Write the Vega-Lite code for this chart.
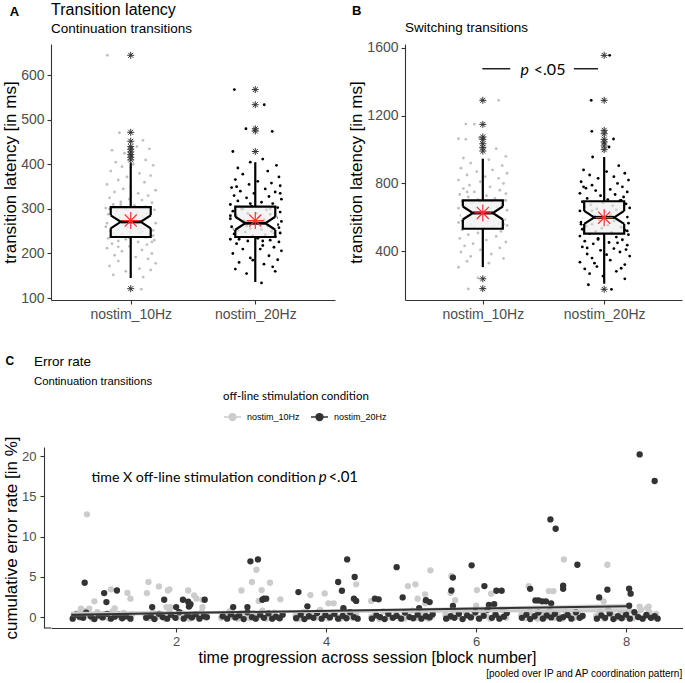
{
"$schema":"https://vega.github.io/schema/vega-lite/v6.json",
"padding":{"left":1,"top":1,"right":0,"bottom":0},
"spacing":33,
"columns":1,
"align":"none",
"config":{"view":{"stroke":null},"font":"Liberation Sans",
"axis":{"grid":false,"labelColor":"#4d4d4d","domainColor":"#333333","tickColor":"#333333","titleColor":"#000000","titleFontWeight":"normal","labelFont":"Liberation Sans","titleFont":"Liberation Sans","tickSize":4,"domainWidth":1.1,"tickWidth":1.1,"labelFontSize":14,"titleFontSize":17,"labelPadding":3,"titlePadding":1},
"title":{"font":"Liberation Sans","fontWeight":"normal","color":"#000000","subtitleColor":"#000000","subtitleFont":"Liberation Sans"}},
"datasets":{
"pts":[
{"p":"A","g":"10Hz","x":0.813,"y":645},{"p":"A","g":"10Hz","x":0.909,"y":471},{"p":"A","g":"10Hz","x":1.098,"y":454},{"p":"A","g":"10Hz","x":0.85,"y":432},{"p":"A","g":"10Hz","x":1.05,"y":440},{"p":"A","g":"10Hz","x":1.15,"y":435},{"p":"A","g":"10Hz","x":0.95,"y":425},{"p":"A","g":"10Hz","x":1.12,"y":410},{"p":"A","g":"10Hz","x":0.88,"y":405},{"p":"A","g":"10Hz","x":1.02,"y":400},{"p":"A","g":"10Hz","x":0.93,"y":395},{"p":"A","g":"10Hz","x":1.18,"y":398},{"p":"A","g":"10Hz","x":0.84,"y":385},{"p":"A","g":"10Hz","x":1.07,"y":380},{"p":"A","g":"10Hz","x":0.97,"y":372},{"p":"A","g":"10Hz","x":1.16,"y":375},{"p":"A","g":"10Hz","x":0.9,"y":365},{"p":"A","g":"10Hz","x":1.11,"y":360},{"p":"A","g":"10Hz","x":0.81,"y":355},{"p":"A","g":"10Hz","x":1.0,"y":350},{"p":"A","g":"10Hz","x":0.94,"y":345},{"p":"A","g":"10Hz","x":1.2,"y":342},{"p":"A","g":"10Hz","x":0.87,"y":338},{"p":"A","g":"10Hz","x":1.06,"y":335},{"p":"A","g":"10Hz","x":1.14,"y":330},{"p":"A","g":"10Hz","x":0.83,"y":325},{"p":"A","g":"10Hz","x":0.99,"y":322},{"p":"A","g":"10Hz","x":1.09,"y":320},{"p":"A","g":"10Hz","x":0.92,"y":316},{"p":"A","g":"10Hz","x":1.17,"y":314},{"p":"A","g":"10Hz","x":0.86,"y":310},{"p":"A","g":"10Hz","x":1.03,"y":308},{"p":"A","g":"10Hz","x":1.12,"y":305},{"p":"A","g":"10Hz","x":0.8,"y":302},{"p":"A","g":"10Hz","x":0.96,"y":300},{"p":"A","g":"10Hz","x":1.19,"y":298},{"p":"A","g":"10Hz","x":0.89,"y":295},{"p":"A","g":"10Hz","x":1.05,"y":292},{"p":"A","g":"10Hz","x":1.13,"y":290},{"p":"A","g":"10Hz","x":0.82,"y":288},{"p":"A","g":"10Hz","x":0.98,"y":285},{"p":"A","g":"10Hz","x":1.1,"y":283},{"p":"A","g":"10Hz","x":0.91,"y":280},{"p":"A","g":"10Hz","x":1.16,"y":278},{"p":"A","g":"10Hz","x":0.85,"y":276},{"p":"A","g":"10Hz","x":1.01,"y":274},{"p":"A","g":"10Hz","x":1.08,"y":272},{"p":"A","g":"10Hz","x":0.94,"y":270},{"p":"A","g":"10Hz","x":1.2,"y":268},{"p":"A","g":"10Hz","x":0.87,"y":266},{"p":"A","g":"10Hz","x":1.04,"y":264},{"p":"A","g":"10Hz","x":1.14,"y":262},{"p":"A","g":"10Hz","x":0.8,"y":260},{"p":"A","g":"10Hz","x":0.97,"y":258},{"p":"A","g":"10Hz","x":1.11,"y":256},{"p":"A","g":"10Hz","x":0.9,"y":254},{"p":"A","g":"10Hz","x":1.18,"y":252},{"p":"A","g":"10Hz","x":0.84,"y":250},{"p":"A","g":"10Hz","x":1.0,"y":248},{"p":"A","g":"10Hz","x":1.07,"y":246},{"p":"A","g":"10Hz","x":0.93,"y":244},{"p":"A","g":"10Hz","x":1.15,"y":242},{"p":"A","g":"10Hz","x":0.88,"y":240},{"p":"A","g":"10Hz","x":1.03,"y":238},{"p":"A","g":"10Hz","x":1.12,"y":236},{"p":"A","g":"10Hz","x":0.82,"y":234},{"p":"A","g":"10Hz","x":0.96,"y":232},{"p":"A","g":"10Hz","x":1.19,"y":230},{"p":"A","g":"10Hz","x":0.9,"y":228},{"p":"A","g":"10Hz","x":1.06,"y":226},{"p":"A","g":"10Hz","x":0.85,"y":222},{"p":"A","g":"10Hz","x":1.13,"y":220},{"p":"A","g":"10Hz","x":0.99,"y":216},{"p":"A","g":"10Hz","x":0.81,"y":212},{"p":"A","g":"10Hz","x":1.09,"y":208},{"p":"A","g":"10Hz","x":0.93,"y":205},{"p":"A","g":"10Hz","x":1.17,"y":200},{"p":"A","g":"10Hz","x":0.87,"y":196},{"p":"A","g":"10Hz","x":1.04,"y":192},{"p":"A","g":"10Hz","x":1.14,"y":188},{"p":"A","g":"10Hz","x":0.9,"y":183},{"p":"A","g":"10Hz","x":1.2,"y":178},{"p":"A","g":"10Hz","x":0.83,"y":172},{"p":"A","g":"10Hz","x":1.07,"y":166},{"p":"A","g":"10Hz","x":0.96,"y":160},{"p":"A","g":"10Hz","x":1.16,"y":163},{"p":"A","g":"10Hz","x":0.86,"y":152},{"p":"A","g":"10Hz","x":1.1,"y":147},{"p":"A","g":"10Hz","x":1.085,"y":120},{"p":"A","g":"10Hz","x":0.83,"y":300},{"p":"A","g":"10Hz","x":1.15,"y":285},{"p":"A","g":"10Hz","x":0.95,"y":262},{"p":"A","g":"10Hz","x":1.09,"y":250},{"p":"A","g":"10Hz","x":0.88,"y":275},{"p":"A","g":"10Hz","x":1.01,"y":290},{"p":"A","g":"10Hz","x":1.18,"y":240},{"p":"A","g":"10Hz","x":0.92,"y":310},{"p":"A","g":"10Hz","x":1.06,"y":255},{"p":"A","g":"10Hz","x":0.86,"y":245},{"p":"A","g":"10Hz","x":1.13,"y":270},{"p":"A","g":"10Hz","x":0.99,"y":235},{"p":"A","g":"10Hz","x":0.81,"y":268},{"p":"A","g":"10Hz","x":1.04,"y":280},{"p":"A","g":"10Hz","x":1.17,"y":226},{"p":"A","g":"10Hz","x":0.9,"y":215},
{"p":"A","g":"20Hz","x":1.832,"y":568},{"p":"A","g":"20Hz","x":2.072,"y":534},{"p":"A","g":"20Hz","x":1.925,"y":480},{"p":"A","g":"20Hz","x":2.136,"y":474},{"p":"A","g":"20Hz","x":1.82,"y":429},{"p":"A","g":"20Hz","x":2.06,"y":412},{"p":"A","g":"20Hz","x":1.96,"y":405},{"p":"A","g":"20Hz","x":2.17,"y":398},{"p":"A","g":"20Hz","x":1.86,"y":392},{"p":"A","g":"20Hz","x":2.1,"y":385},{"p":"A","g":"20Hz","x":1.9,"y":378},{"p":"A","g":"20Hz","x":2.19,"y":372},{"p":"A","g":"20Hz","x":1.84,"y":366},{"p":"A","g":"20Hz","x":2.02,"y":362},{"p":"A","g":"20Hz","x":2.13,"y":358},{"p":"A","g":"20Hz","x":1.95,"y":355},{"p":"A","g":"20Hz","x":2.2,"y":352},{"p":"A","g":"20Hz","x":1.81,"y":348},{"p":"A","g":"20Hz","x":2.08,"y":345},{"p":"A","g":"20Hz","x":1.88,"y":340},{"p":"A","g":"20Hz","x":2.16,"y":338},{"p":"A","g":"20Hz","x":1.99,"y":335},{"p":"A","g":"20Hz","x":1.83,"y":330},{"p":"A","g":"20Hz","x":2.11,"y":328},{"p":"A","g":"20Hz","x":1.93,"y":325},{"p":"A","g":"20Hz","x":2.21,"y":322},{"p":"A","g":"20Hz","x":1.86,"y":318},{"p":"A","g":"20Hz","x":2.05,"y":315},{"p":"A","g":"20Hz","x":2.14,"y":312},{"p":"A","g":"20Hz","x":1.8,"y":310},{"p":"A","g":"20Hz","x":1.97,"y":306},{"p":"A","g":"20Hz","x":2.18,"y":303},{"p":"A","g":"20Hz","x":1.89,"y":300},{"p":"A","g":"20Hz","x":2.09,"y":298},{"p":"A","g":"20Hz","x":1.82,"y":295},{"p":"A","g":"20Hz","x":2.2,"y":293},{"p":"A","g":"20Hz","x":1.94,"y":290},{"p":"A","g":"20Hz","x":2.12,"y":288},{"p":"A","g":"20Hz","x":1.85,"y":285},{"p":"A","g":"20Hz","x":2.03,"y":282},{"p":"A","g":"20Hz","x":2.17,"y":280},{"p":"A","g":"20Hz","x":1.8,"y":278},{"p":"A","g":"20Hz","x":2.07,"y":276},{"p":"A","g":"20Hz","x":1.91,"y":274},{"p":"A","g":"20Hz","x":2.21,"y":272},{"p":"A","g":"20Hz","x":1.84,"y":270},{"p":"A","g":"20Hz","x":2.0,"y":268},{"p":"A","g":"20Hz","x":2.15,"y":266},{"p":"A","g":"20Hz","x":1.88,"y":264},{"p":"A","g":"20Hz","x":2.1,"y":262},{"p":"A","g":"20Hz","x":1.81,"y":260},{"p":"A","g":"20Hz","x":2.19,"y":258},{"p":"A","g":"20Hz","x":1.96,"y":256},{"p":"A","g":"20Hz","x":2.05,"y":254},{"p":"A","g":"20Hz","x":1.86,"y":252},{"p":"A","g":"20Hz","x":2.13,"y":250},{"p":"A","g":"20Hz","x":1.92,"y":248},{"p":"A","g":"20Hz","x":2.2,"y":246},{"p":"A","g":"20Hz","x":1.83,"y":244},{"p":"A","g":"20Hz","x":2.08,"y":242},{"p":"A","g":"20Hz","x":1.98,"y":240},{"p":"A","g":"20Hz","x":2.16,"y":238},{"p":"A","g":"20Hz","x":1.87,"y":236},{"p":"A","g":"20Hz","x":2.02,"y":234},{"p":"A","g":"20Hz","x":1.8,"y":232},{"p":"A","g":"20Hz","x":2.12,"y":230},{"p":"A","g":"20Hz","x":1.94,"y":228},{"p":"A","g":"20Hz","x":2.19,"y":226},{"p":"A","g":"20Hz","x":1.85,"y":222},{"p":"A","g":"20Hz","x":2.06,"y":218},{"p":"A","g":"20Hz","x":2.15,"y":214},{"p":"A","g":"20Hz","x":1.9,"y":210},{"p":"A","g":"20Hz","x":2.21,"y":206},{"p":"A","g":"20Hz","x":1.82,"y":200},{"p":"A","g":"20Hz","x":2.11,"y":195},{"p":"A","g":"20Hz","x":1.96,"y":190},{"p":"A","g":"20Hz","x":2.18,"y":186},{"p":"A","g":"20Hz","x":1.87,"y":180},{"p":"A","g":"20Hz","x":2.07,"y":176},{"p":"A","g":"20Hz","x":2.14,"y":170},{"p":"A","g":"20Hz","x":1.84,"y":165},{"p":"A","g":"20Hz","x":2.16,"y":160},{"p":"A","g":"20Hz","x":1.93,"y":155},{"p":"A","g":"20Hz","x":2.05,"y":134},{"p":"A","g":"20Hz","x":1.9,"y":300},{"p":"A","g":"20Hz","x":2.1,"y":270},{"p":"A","g":"20Hz","x":1.83,"y":255},{"p":"A","g":"20Hz","x":2.15,"y":245},{"p":"A","g":"20Hz","x":2.01,"y":290},{"p":"A","g":"20Hz","x":1.87,"y":232},{"p":"A","g":"20Hz","x":2.18,"y":265},{"p":"A","g":"20Hz","x":1.96,"y":312},{"p":"A","g":"20Hz","x":2.06,"y":228},{"p":"A","g":"20Hz","x":1.8,"y":285},{"p":"A","g":"20Hz","x":2.12,"y":300},{"p":"A","g":"20Hz","x":1.93,"y":262},{"p":"A","g":"20Hz","x":2.2,"y":335},{"p":"A","g":"20Hz","x":1.85,"y":350},{"p":"A","g":"20Hz","x":2.04,"y":210},{"p":"A","g":"20Hz","x":1.98,"y":185},
{"p":"B","g":"10Hz","x":1.13,"y":1290},{"p":"B","g":"10Hz","x":0.99,"y":1290},{"p":"B","g":"10Hz","x":0.93,"y":1150},{"p":"B","g":"10Hz","x":0.86,"y":1150},{"p":"B","g":"10Hz","x":0.8,"y":1064},{"p":"B","g":"10Hz","x":0.86,"y":1060},{"p":"B","g":"10Hz","x":0.99,"y":1040},{"p":"B","g":"10Hz","x":1.11,"y":1005},{"p":"B","g":"10Hz","x":1.01,"y":1000},{"p":"B","g":"10Hz","x":0.97,"y":1070},{"p":"B","g":"10Hz","x":1.19,"y":960},{"p":"B","g":"10Hz","x":0.84,"y":950},{"p":"B","g":"10Hz","x":1.05,"y":940},{"p":"B","g":"10Hz","x":0.9,"y":920},{"p":"B","g":"10Hz","x":1.16,"y":905},{"p":"B","g":"10Hz","x":0.82,"y":890},{"p":"B","g":"10Hz","x":1.08,"y":880},{"p":"B","g":"10Hz","x":0.95,"y":870},{"p":"B","g":"10Hz","x":1.2,"y":860},{"p":"B","g":"10Hz","x":0.87,"y":850},{"p":"B","g":"10Hz","x":1.02,"y":840},{"p":"B","g":"10Hz","x":1.13,"y":830},{"p":"B","g":"10Hz","x":0.8,"y":820},{"p":"B","g":"10Hz","x":0.98,"y":810},{"p":"B","g":"10Hz","x":1.17,"y":800},{"p":"B","g":"10Hz","x":0.89,"y":790},{"p":"B","g":"10Hz","x":1.06,"y":780},{"p":"B","g":"10Hz","x":0.84,"y":770},{"p":"B","g":"10Hz","x":1.14,"y":760},{"p":"B","g":"10Hz","x":0.93,"y":750},{"p":"B","g":"10Hz","x":1.19,"y":740},{"p":"B","g":"10Hz","x":0.81,"y":735},{"p":"B","g":"10Hz","x":1.03,"y":728},{"p":"B","g":"10Hz","x":0.88,"y":720},{"p":"B","g":"10Hz","x":1.1,"y":712},{"p":"B","g":"10Hz","x":0.96,"y":705},{"p":"B","g":"10Hz","x":1.18,"y":700},{"p":"B","g":"10Hz","x":0.83,"y":695},{"p":"B","g":"10Hz","x":1.07,"y":690},{"p":"B","g":"10Hz","x":0.91,"y":684},{"p":"B","g":"10Hz","x":1.15,"y":678},{"p":"B","g":"10Hz","x":0.86,"y":672},{"p":"B","g":"10Hz","x":1.0,"y":666},{"p":"B","g":"10Hz","x":1.12,"y":660},{"p":"B","g":"10Hz","x":0.8,"y":654},{"p":"B","g":"10Hz","x":0.95,"y":648},{"p":"B","g":"10Hz","x":1.2,"y":642},{"p":"B","g":"10Hz","x":0.88,"y":636},{"p":"B","g":"10Hz","x":1.05,"y":630},{"p":"B","g":"10Hz","x":0.92,"y":624},{"p":"B","g":"10Hz","x":1.16,"y":618},{"p":"B","g":"10Hz","x":0.82,"y":612},{"p":"B","g":"10Hz","x":0.99,"y":606},{"p":"B","g":"10Hz","x":1.1,"y":600},{"p":"B","g":"10Hz","x":0.85,"y":594},{"p":"B","g":"10Hz","x":1.18,"y":588},{"p":"B","g":"10Hz","x":0.94,"y":582},{"p":"B","g":"10Hz","x":1.04,"y":576},{"p":"B","g":"10Hz","x":0.8,"y":570},{"p":"B","g":"10Hz","x":1.13,"y":564},{"p":"B","g":"10Hz","x":0.9,"y":558},{"p":"B","g":"10Hz","x":1.2,"y":552},{"p":"B","g":"10Hz","x":0.86,"y":546},{"p":"B","g":"10Hz","x":1.01,"y":540},{"p":"B","g":"10Hz","x":1.08,"y":534},{"p":"B","g":"10Hz","x":0.83,"y":526},{"p":"B","g":"10Hz","x":1.15,"y":518},{"p":"B","g":"10Hz","x":0.96,"y":508},{"p":"B","g":"10Hz","x":0.88,"y":498},{"p":"B","g":"10Hz","x":1.11,"y":488},{"p":"B","g":"10Hz","x":0.81,"y":476},{"p":"B","g":"10Hz","x":1.03,"y":466},{"p":"B","g":"10Hz","x":1.19,"y":455},{"p":"B","g":"10Hz","x":0.92,"y":445},{"p":"B","g":"10Hz","x":0.85,"y":432},{"p":"B","g":"10Hz","x":1.14,"y":420},{"p":"B","g":"10Hz","x":0.98,"y":408},{"p":"B","g":"10Hz","x":0.82,"y":396},{"p":"B","g":"10Hz","x":1.07,"y":384},{"p":"B","g":"10Hz","x":0.9,"y":370},{"p":"B","g":"10Hz","x":1.17,"y":358},{"p":"B","g":"10Hz","x":0.87,"y":342},{"p":"B","g":"10Hz","x":1.05,"y":330},{"p":"B","g":"10Hz","x":0.8,"y":306},{"p":"B","g":"10Hz","x":0.96,"y":243},{"p":"B","g":"10Hz","x":0.88,"y":178},{"p":"B","g":"10Hz","x":0.84,"y":660},{"p":"B","g":"10Hz","x":1.12,"y":620},{"p":"B","g":"10Hz","x":0.9,"y":600},{"p":"B","g":"10Hz","x":1.06,"y":650},{"p":"B","g":"10Hz","x":0.98,"y":690},{"p":"B","g":"10Hz","x":1.17,"y":560},{"p":"B","g":"10Hz","x":0.83,"y":580},{"p":"B","g":"10Hz","x":1.02,"y":610},{"p":"B","g":"10Hz","x":0.93,"y":540},{"p":"B","g":"10Hz","x":1.19,"y":700},{"p":"B","g":"10Hz","x":0.87,"y":750},{"p":"B","g":"10Hz","x":1.09,"y":545},
{"p":"B","g":"20Hz","x":2.045,"y":1555},{"p":"B","g":"20Hz","x":1.893,"y":1290},{"p":"B","g":"20Hz","x":1.898,"y":1107},{"p":"B","g":"20Hz","x":2.077,"y":1062},{"p":"B","g":"20Hz","x":2.04,"y":1015},{"p":"B","g":"20Hz","x":2.0,"y":1040},{"p":"B","g":"20Hz","x":1.905,"y":956},{"p":"B","g":"20Hz","x":2.12,"y":905},{"p":"B","g":"20Hz","x":1.83,"y":880},{"p":"B","g":"20Hz","x":2.02,"y":870},{"p":"B","g":"20Hz","x":2.17,"y":860},{"p":"B","g":"20Hz","x":1.88,"y":850},{"p":"B","g":"20Hz","x":2.08,"y":840},{"p":"B","g":"20Hz","x":1.95,"y":830},{"p":"B","g":"20Hz","x":2.2,"y":820},{"p":"B","g":"20Hz","x":1.81,"y":810},{"p":"B","g":"20Hz","x":2.11,"y":800},{"p":"B","g":"20Hz","x":1.9,"y":790},{"p":"B","g":"20Hz","x":2.15,"y":780},{"p":"B","g":"20Hz","x":1.85,"y":772},{"p":"B","g":"20Hz","x":2.05,"y":765},{"p":"B","g":"20Hz","x":1.93,"y":758},{"p":"B","g":"20Hz","x":2.19,"y":750},{"p":"B","g":"20Hz","x":1.8,"y":742},{"p":"B","g":"20Hz","x":2.09,"y":735},{"p":"B","g":"20Hz","x":1.97,"y":728},{"p":"B","g":"20Hz","x":2.16,"y":720},{"p":"B","g":"20Hz","x":1.86,"y":712},{"p":"B","g":"20Hz","x":2.03,"y":705},{"p":"B","g":"20Hz","x":2.13,"y":698},{"p":"B","g":"20Hz","x":1.82,"y":692},{"p":"B","g":"20Hz","x":1.99,"y":686},{"p":"B","g":"20Hz","x":2.18,"y":680},{"p":"B","g":"20Hz","x":1.89,"y":674},{"p":"B","g":"20Hz","x":2.07,"y":668},{"p":"B","g":"20Hz","x":1.84,"y":662},{"p":"B","g":"20Hz","x":2.21,"y":656},{"p":"B","g":"20Hz","x":1.94,"y":650},{"p":"B","g":"20Hz","x":2.1,"y":644},{"p":"B","g":"20Hz","x":1.8,"y":638},{"p":"B","g":"20Hz","x":2.01,"y":632},{"p":"B","g":"20Hz","x":2.16,"y":626},{"p":"B","g":"20Hz","x":1.87,"y":620},{"p":"B","g":"20Hz","x":2.05,"y":614},{"p":"B","g":"20Hz","x":1.92,"y":608},{"p":"B","g":"20Hz","x":2.19,"y":602},{"p":"B","g":"20Hz","x":1.83,"y":596},{"p":"B","g":"20Hz","x":2.12,"y":590},{"p":"B","g":"20Hz","x":1.96,"y":584},{"p":"B","g":"20Hz","x":2.08,"y":578},{"p":"B","g":"20Hz","x":1.81,"y":572},{"p":"B","g":"20Hz","x":2.2,"y":566},{"p":"B","g":"20Hz","x":1.9,"y":560},{"p":"B","g":"20Hz","x":2.03,"y":554},{"p":"B","g":"20Hz","x":1.85,"y":548},{"p":"B","g":"20Hz","x":2.14,"y":542},{"p":"B","g":"20Hz","x":1.98,"y":536},{"p":"B","g":"20Hz","x":1.82,"y":530},{"p":"B","g":"20Hz","x":2.17,"y":524},{"p":"B","g":"20Hz","x":1.93,"y":518},{"p":"B","g":"20Hz","x":2.06,"y":512},{"p":"B","g":"20Hz","x":1.88,"y":504},{"p":"B","g":"20Hz","x":2.2,"y":498},{"p":"B","g":"20Hz","x":1.8,"y":490},{"p":"B","g":"20Hz","x":2.1,"y":484},{"p":"B","g":"20Hz","x":1.95,"y":476},{"p":"B","g":"20Hz","x":2.15,"y":468},{"p":"B","g":"20Hz","x":1.84,"y":460},{"p":"B","g":"20Hz","x":2.04,"y":452},{"p":"B","g":"20Hz","x":1.91,"y":444},{"p":"B","g":"20Hz","x":2.19,"y":436},{"p":"B","g":"20Hz","x":1.82,"y":426},{"p":"B","g":"20Hz","x":2.08,"y":416},{"p":"B","g":"20Hz","x":1.97,"y":406},{"p":"B","g":"20Hz","x":2.13,"y":396},{"p":"B","g":"20Hz","x":1.86,"y":384},{"p":"B","g":"20Hz","x":2.21,"y":372},{"p":"B","g":"20Hz","x":1.9,"y":360},{"p":"B","g":"20Hz","x":2.05,"y":348},{"p":"B","g":"20Hz","x":1.8,"y":336},{"p":"B","g":"20Hz","x":2.17,"y":322},{"p":"B","g":"20Hz","x":1.94,"y":310},{"p":"B","g":"20Hz","x":1.84,"y":296},{"p":"B","g":"20Hz","x":2.1,"y":282},{"p":"B","g":"20Hz","x":1.88,"y":268},{"p":"B","g":"20Hz","x":1.99,"y":254},{"p":"B","g":"20Hz","x":2.17,"y":238},{"p":"B","g":"20Hz","x":1.87,"y":203},{"p":"B","g":"20Hz","x":2.06,"y":176},{"p":"B","g":"20Hz","x":1.83,"y":780},{"p":"B","g":"20Hz","x":2.14,"y":700},{"p":"B","g":"20Hz","x":1.9,"y":640},{"p":"B","g":"20Hz","x":2.06,"y":600},{"p":"B","g":"20Hz","x":1.81,"y":560},{"p":"B","g":"20Hz","x":2.19,"y":520},{"p":"B","g":"20Hz","x":1.95,"y":470},{"p":"B","g":"20Hz","x":2.11,"y":450},{"p":"B","g":"20Hz","x":1.86,"y":420},{"p":"B","g":"20Hz","x":2.02,"y":380},{"p":"B","g":"20Hz","x":2.18,"y":410},{"p":"B","g":"20Hz","x":1.92,"y":330},{"p":"B","g":"20Hz","x":2.14,"y":300}
],
"box":[
{"p":"A","c":1,"q1":237,"q3":304,"med":271,"lo":145,"hi":404,"mean":274},
{"p":"A","c":2,"q1":237,"q3":305,"med":268,"lo":136,"hi":405,"mean":274},
{"p":"B","c":1,"q1":533,"q3":700,"med":626,"lo":307,"hi":946,"mean":626},
{"p":"B","c":2,"q1":504,"q3":695,"med":600,"lo":209,"hi":956,"mean":598}
],
"outl":[
{"p":"A","c":1,"y":645},{"p":"A","c":1,"y":472},{"p":"A","c":1,"y":452},{"p":"A","c":1,"y":440},{"p":"A","c":1,"y":434},{"p":"A","c":1,"y":428},{"p":"A","c":1,"y":422},{"p":"A","c":1,"y":416},{"p":"A","c":1,"y":410},{"p":"A","c":1,"y":121},
{"p":"A","c":2,"y":568},{"p":"A","c":2,"y":534},{"p":"A","c":2,"y":480},{"p":"A","c":2,"y":475},{"p":"A","c":2,"y":429},
{"p":"B","c":1,"y":1290},{"p":"B","c":1,"y":1148},{"p":"B","c":1,"y":1074},{"p":"B","c":1,"y":1060},{"p":"B","c":1,"y":1034},{"p":"B","c":1,"y":1011},{"p":"B","c":1,"y":991},{"p":"B","c":1,"y":238},{"p":"B","c":1,"y":180},
{"p":"B","c":2,"y":1555},{"p":"B","c":2,"y":1290},{"p":"B","c":2,"y":1113},{"p":"B","c":2,"y":1093},{"p":"B","c":2,"y":1060},{"p":"B","c":2,"y":1044},{"p":"B","c":2,"y":1021},{"p":"B","c":2,"y":999},{"p":"B","c":2,"y":176}
],
"fit":[
{"g":"nostim_10Hz","x":0.6,"fit":0.5,"lo":0.3,"hi":0.7},{"g":"nostim_10Hz","x":4.3,"fit":0.65,"lo":0.55,"hi":0.75},{"g":"nostim_10Hz","x":8.0,"fit":0.8,"lo":0.55,"hi":1.05},
{"g":"nostim_20Hz","x":0.6,"fit":0.3,"lo":0.05,"hi":0.55},{"g":"nostim_20Hz","x":4.3,"fit":0.82,"lo":0.7,"hi":0.95},{"g":"nostim_20Hz","x":8.0,"fit":1.35,"lo":1.05,"hi":1.65}
],
"err":[
{"g":"nostim_10Hz","x":0.63,"y":0.1},{"g":"nostim_10Hz","x":0.68,"y":0.45},{"g":"nostim_10Hz","x":0.72,"y":-0.1},{"g":"nostim_10Hz","x":0.77,"y":0.8},{"g":"nostim_10Hz","x":0.83,"y":0.2},{"g":"nostim_10Hz","x":0.88,"y":-0.2},{"g":"nostim_10Hz","x":0.95,"y":0.6},{"g":"nostim_10Hz","x":0.99,"y":0.05},{"g":"nostim_10Hz","x":1.04,"y":0.35},{"g":"nostim_10Hz","x":1.1,"y":-0.15},{"g":"nostim_10Hz","x":1.15,"y":0.7},{"g":"nostim_10Hz","x":1.2,"y":0.15},{"g":"nostim_10Hz","x":1.26,"y":-0.05},{"g":"nostim_10Hz","x":1.3,"y":0.5},{"g":"nostim_10Hz","x":1.36,"y":0.0},{"g":"nostim_10Hz","x":1.41,"y":0.3},
{"g":"nostim_10Hz","x":1.59,"y":0.2},{"g":"nostim_10Hz","x":1.64,"y":-0.15},{"g":"nostim_10Hz","x":1.69,"y":0.6},{"g":"nostim_10Hz","x":1.74,"y":0.0},{"g":"nostim_10Hz","x":1.8,"y":0.4},{"g":"nostim_10Hz","x":1.85,"y":-0.2},{"g":"nostim_10Hz","x":1.91,"y":0.85},{"g":"nostim_10Hz","x":1.96,"y":0.1},{"g":"nostim_10Hz","x":2.01,"y":-0.1},{"g":"nostim_10Hz","x":2.07,"y":0.5},{"g":"nostim_10Hz","x":2.12,"y":0.05},{"g":"nostim_10Hz","x":2.18,"y":-0.2},{"g":"nostim_10Hz","x":2.23,"y":0.3},{"g":"nostim_10Hz","x":2.29,"y":0.0},{"g":"nostim_10Hz","x":2.34,"y":0.6},{"g":"nostim_10Hz","x":2.4,"y":-0.1},
{"g":"nostim_10Hz","x":2.6,"y":-0.1},{"g":"nostim_10Hz","x":2.65,"y":0.3},{"g":"nostim_10Hz","x":2.71,"y":0.7},{"g":"nostim_10Hz","x":2.76,"y":0.0},{"g":"nostim_10Hz","x":2.82,"y":-0.2},{"g":"nostim_10Hz","x":2.87,"y":0.5},{"g":"nostim_10Hz","x":2.93,"y":0.1},{"g":"nostim_10Hz","x":2.98,"y":-0.15},{"g":"nostim_10Hz","x":3.04,"y":0.4},{"g":"nostim_10Hz","x":3.09,"y":0.0},{"g":"nostim_10Hz","x":3.15,"y":0.8},{"g":"nostim_10Hz","x":3.2,"y":-0.2},{"g":"nostim_10Hz","x":3.26,"y":0.2},{"g":"nostim_10Hz","x":3.31,"y":0.55},{"g":"nostim_10Hz","x":3.36,"y":-0.1},{"g":"nostim_10Hz","x":3.41,"y":0.25},
{"g":"nostim_10Hz","x":3.59,"y":0.15},{"g":"nostim_10Hz","x":3.64,"y":-0.2},{"g":"nostim_10Hz","x":3.7,"y":0.6},{"g":"nostim_10Hz","x":3.75,"y":0.0},{"g":"nostim_10Hz","x":3.81,"y":0.35},{"g":"nostim_10Hz","x":3.86,"y":-0.1},{"g":"nostim_10Hz","x":3.92,"y":0.9},{"g":"nostim_10Hz","x":3.97,"y":0.2},{"g":"nostim_10Hz","x":4.03,"y":-0.15},{"g":"nostim_10Hz","x":4.08,"y":0.5},{"g":"nostim_10Hz","x":4.14,"y":0.0},{"g":"nostim_10Hz","x":4.19,"y":-0.2},{"g":"nostim_10Hz","x":4.25,"y":0.7},{"g":"nostim_10Hz","x":4.3,"y":0.1},{"g":"nostim_10Hz","x":4.35,"y":-0.1},{"g":"nostim_10Hz","x":4.4,"y":0.4},
{"g":"nostim_10Hz","x":4.6,"y":0.0},{"g":"nostim_10Hz","x":4.65,"y":0.4},{"g":"nostim_10Hz","x":4.71,"y":-0.2},{"g":"nostim_10Hz","x":4.76,"y":0.7},{"g":"nostim_10Hz","x":4.82,"y":0.1},{"g":"nostim_10Hz","x":4.87,"y":-0.1},{"g":"nostim_10Hz","x":4.93,"y":0.5},{"g":"nostim_10Hz","x":4.98,"y":0.0},{"g":"nostim_10Hz","x":5.04,"y":-0.2},{"g":"nostim_10Hz","x":5.09,"y":0.3},{"g":"nostim_10Hz","x":5.15,"y":0.8},{"g":"nostim_10Hz","x":5.2,"y":-0.1},{"g":"nostim_10Hz","x":5.26,"y":0.2},{"g":"nostim_10Hz","x":5.31,"y":0.6},{"g":"nostim_10Hz","x":5.36,"y":-0.2},{"g":"nostim_10Hz","x":5.41,"y":0.1},
{"g":"nostim_10Hz","x":5.59,"y":0.3},{"g":"nostim_10Hz","x":5.64,"y":-0.1},{"g":"nostim_10Hz","x":5.7,"y":0.8},{"g":"nostim_10Hz","x":5.75,"y":0.1},{"g":"nostim_10Hz","x":5.81,"y":-0.2},{"g":"nostim_10Hz","x":5.86,"y":0.5},{"g":"nostim_10Hz","x":5.92,"y":0.0},{"g":"nostim_10Hz","x":5.97,"y":0.35},{"g":"nostim_10Hz","x":6.03,"y":-0.15},{"g":"nostim_10Hz","x":6.08,"y":0.7},{"g":"nostim_10Hz","x":6.14,"y":0.1},{"g":"nostim_10Hz","x":6.19,"y":-0.2},{"g":"nostim_10Hz","x":6.25,"y":0.45},{"g":"nostim_10Hz","x":6.3,"y":0.0},{"g":"nostim_10Hz","x":6.35,"y":0.9},{"g":"nostim_10Hz","x":6.4,"y":-0.1},
{"g":"nostim_10Hz","x":6.6,"y":0.2},{"g":"nostim_10Hz","x":6.65,"y":-0.15},{"g":"nostim_10Hz","x":6.71,"y":0.6},{"g":"nostim_10Hz","x":6.76,"y":0.05},{"g":"nostim_10Hz","x":6.82,"y":-0.2},{"g":"nostim_10Hz","x":6.87,"y":0.4},{"g":"nostim_10Hz","x":6.93,"y":0.0},{"g":"nostim_10Hz","x":6.98,"y":0.75},{"g":"nostim_10Hz","x":7.04,"y":-0.1},{"g":"nostim_10Hz","x":7.09,"y":0.3},{"g":"nostim_10Hz","x":7.15,"y":-0.2},{"g":"nostim_10Hz","x":7.2,"y":0.55},{"g":"nostim_10Hz","x":7.26,"y":0.1},{"g":"nostim_10Hz","x":7.31,"y":-0.1},{"g":"nostim_10Hz","x":7.36,"y":0.4},{"g":"nostim_10Hz","x":7.41,"y":0.0},
{"g":"nostim_10Hz","x":7.6,"y":0.1},{"g":"nostim_10Hz","x":7.65,"y":0.6},{"g":"nostim_10Hz","x":7.71,"y":-0.2},{"g":"nostim_10Hz","x":7.76,"y":0.9},{"g":"nostim_10Hz","x":7.82,"y":0.2},{"g":"nostim_10Hz","x":7.87,"y":-0.1},{"g":"nostim_10Hz","x":7.93,"y":0.5},{"g":"nostim_10Hz","x":7.98,"y":0.0},{"g":"nostim_10Hz","x":8.04,"y":0.8},{"g":"nostim_10Hz","x":8.09,"y":-0.15},{"g":"nostim_10Hz","x":8.15,"y":0.35},{"g":"nostim_10Hz","x":8.2,"y":0.9},{"g":"nostim_10Hz","x":8.26,"y":0.1},{"g":"nostim_10Hz","x":8.31,"y":0.6},{"g":"nostim_10Hz","x":8.36,"y":-0.1},{"g":"nostim_10Hz","x":8.4,"y":0.4},
{"g":"nostim_10Hz","x":0.81,"y":12.76},{"g":"nostim_10Hz","x":0.91,"y":1.95},{"g":"nostim_10Hz","x":0.73,"y":1.03},{"g":"nostim_10Hz","x":0.84,"y":1.03},{"g":"nostim_10Hz","x":1.13,"y":3.44},{"g":"nostim_10Hz","x":1.18,"y":1.07},{"g":"nostim_10Hz","x":1.35,"y":3.0},{"g":"nostim_10Hz","x":1.39,"y":2.28},{"g":"nostim_10Hz","x":1.63,"y":4.35},{"g":"nostim_10Hz","x":1.61,"y":2.98},{"g":"nostim_10Hz","x":1.77,"y":3.8},{"g":"nostim_10Hz","x":1.89,"y":3.3},{"g":"nostim_10Hz","x":1.91,"y":3.44},{"g":"nostim_10Hz","x":1.87,"y":1.24},{"g":"nostim_10Hz","x":1.92,"y":1.24},{"g":"nostim_10Hz","x":2.16,"y":3.3},{"g":"nostim_10Hz","x":2.24,"y":2.7},{"g":"nostim_10Hz","x":2.27,"y":2.28},{"g":"nostim_10Hz","x":2.35,"y":2.15},{"g":"nostim_10Hz","x":2.35,"y":1.24},{"g":"nostim_10Hz","x":2.74,"y":0.9},{"g":"nostim_10Hz","x":2.87,"y":3.3},{"g":"nostim_10Hz","x":3.07,"y":5.87},{"g":"nostim_10Hz","x":3.01,"y":4.35},{"g":"nostim_10Hz","x":3.25,"y":4.26},{"g":"nostim_10Hz","x":3.14,"y":3.35},{"g":"nostim_10Hz","x":3.1,"y":2.0},{"g":"nostim_10Hz","x":3.39,"y":2.2},{"g":"nostim_10Hz","x":3.79,"y":2.73},{"g":"nostim_10Hz","x":3.98,"y":2.94},{"g":"nostim_10Hz","x":4.03,"y":1.7},{"g":"nostim_10Hz","x":4.1,"y":1.7},{"g":"nostim_10Hz","x":4.4,"y":4.06},{"g":"nostim_10Hz","x":4.6,"y":2.0},{"g":"nostim_10Hz","x":5.09,"y":3.85},{"g":"nostim_10Hz","x":5.19,"y":4.06},{"g":"nostim_10Hz","x":5.22,"y":2.28},{"g":"nostim_10Hz","x":5.32,"y":2.82},{"g":"nostim_10Hz","x":5.32,"y":1.7},{"g":"nostim_10Hz","x":5.39,"y":5.8},{"g":"nostim_10Hz","x":5.67,"y":5.1},{"g":"nostim_10Hz","x":5.72,"y":2.1},{"g":"nostim_10Hz","x":5.66,"y":3.0},{"g":"nostim_10Hz","x":6.01,"y":3.35},{"g":"nostim_10Hz","x":6.0,"y":1.4},{"g":"nostim_10Hz","x":6.2,"y":2.9},{"g":"nostim_10Hz","x":6.7,"y":3.85},{"g":"nostim_10Hz","x":6.97,"y":3.23},{"g":"nostim_10Hz","x":7.03,"y":3.23},{"g":"nostim_10Hz","x":7.17,"y":7.16},{"g":"nostim_10Hz","x":7.75,"y":6.5},{"g":"nostim_10Hz","x":7.7,"y":1.95},{"g":"nostim_10Hz","x":8.18,"y":1.3},{"g":"nostim_10Hz","x":8.28,"y":1.15},{"g":"nostim_10Hz","x":8.3,"y":1.3},
{"g":"nostim_20Hz","x":0.62,"y":-0.2},{"g":"nostim_20Hz","x":0.66,"y":0.3},{"g":"nostim_20Hz","x":0.71,"y":0.05},{"g":"nostim_20Hz","x":0.76,"y":-0.1},{"g":"nostim_20Hz","x":0.8,"y":0.55},{"g":"nostim_20Hz","x":0.86,"y":0.1},{"g":"nostim_20Hz","x":0.91,"y":-0.25},{"g":"nostim_20Hz","x":0.97,"y":0.2},{"g":"nostim_20Hz","x":1.02,"y":-0.05},{"g":"nostim_20Hz","x":1.08,"y":0.4},{"g":"nostim_20Hz","x":1.13,"y":-0.2},{"g":"nostim_20Hz","x":1.18,"y":0.05},{"g":"nostim_20Hz","x":1.23,"y":0.3},{"g":"nostim_20Hz","x":1.28,"y":-0.15},{"g":"nostim_20Hz","x":1.33,"y":0.1},{"g":"nostim_20Hz","x":1.39,"y":-0.2},
{"g":"nostim_20Hz","x":1.6,"y":-0.1},{"g":"nostim_20Hz","x":1.66,"y":0.15},{"g":"nostim_20Hz","x":1.71,"y":-0.25},{"g":"nostim_20Hz","x":1.77,"y":0.4},{"g":"nostim_20Hz","x":1.82,"y":0.0},{"g":"nostim_20Hz","x":1.88,"y":-0.2},{"g":"nostim_20Hz","x":1.93,"y":0.3},{"g":"nostim_20Hz","x":1.99,"y":-0.1},{"g":"nostim_20Hz","x":2.04,"y":0.6},{"g":"nostim_20Hz","x":2.1,"y":-0.2},{"g":"nostim_20Hz","x":2.15,"y":0.2},{"g":"nostim_20Hz","x":2.21,"y":-0.05},{"g":"nostim_20Hz","x":2.26,"y":0.35},{"g":"nostim_20Hz","x":2.31,"y":-0.2},{"g":"nostim_20Hz","x":2.37,"y":0.1},{"g":"nostim_20Hz","x":2.41,"y":0.0},
{"g":"nostim_20Hz","x":2.62,"y":0.1},{"g":"nostim_20Hz","x":2.68,"y":-0.2},{"g":"nostim_20Hz","x":2.73,"y":0.35},{"g":"nostim_20Hz","x":2.79,"y":-0.05},{"g":"nostim_20Hz","x":2.84,"y":0.2},{"g":"nostim_20Hz","x":2.9,"y":-0.25},{"g":"nostim_20Hz","x":2.95,"y":0.6},{"g":"nostim_20Hz","x":3.01,"y":0.0},{"g":"nostim_20Hz","x":3.06,"y":-0.2},{"g":"nostim_20Hz","x":3.12,"y":0.3},{"g":"nostim_20Hz","x":3.17,"y":-0.1},{"g":"nostim_20Hz","x":3.23,"y":0.45},{"g":"nostim_20Hz","x":3.28,"y":-0.2},{"g":"nostim_20Hz","x":3.33,"y":0.05},{"g":"nostim_20Hz","x":3.38,"y":-0.15},{"g":"nostim_20Hz","x":3.42,"y":0.3},
{"g":"nostim_20Hz","x":3.6,"y":-0.15},{"g":"nostim_20Hz","x":3.66,"y":0.3},{"g":"nostim_20Hz","x":3.71,"y":-0.25},{"g":"nostim_20Hz","x":3.77,"y":0.1},{"g":"nostim_20Hz","x":3.83,"y":-0.1},{"g":"nostim_20Hz","x":3.88,"y":0.5},{"g":"nostim_20Hz","x":3.94,"y":-0.2},{"g":"nostim_20Hz","x":3.99,"y":0.25},{"g":"nostim_20Hz","x":4.05,"y":-0.05},{"g":"nostim_20Hz","x":4.11,"y":0.4},{"g":"nostim_20Hz","x":4.16,"y":-0.2},{"g":"nostim_20Hz","x":4.22,"y":0.15},{"g":"nostim_20Hz","x":4.27,"y":-0.15},{"g":"nostim_20Hz","x":4.32,"y":0.6},{"g":"nostim_20Hz","x":4.37,"y":0.0},{"g":"nostim_20Hz","x":4.42,"y":-0.2},
{"g":"nostim_20Hz","x":4.61,"y":-0.2},{"g":"nostim_20Hz","x":4.67,"y":0.2},{"g":"nostim_20Hz","x":4.72,"y":0.0},{"g":"nostim_20Hz","x":4.78,"y":-0.25},{"g":"nostim_20Hz","x":4.83,"y":0.4},{"g":"nostim_20Hz","x":4.89,"y":-0.1},{"g":"nostim_20Hz","x":4.94,"y":0.15},{"g":"nostim_20Hz","x":5.0,"y":-0.2},{"g":"nostim_20Hz","x":5.05,"y":0.55},{"g":"nostim_20Hz","x":5.11,"y":0.0},{"g":"nostim_20Hz","x":5.16,"y":-0.15},{"g":"nostim_20Hz","x":5.22,"y":0.3},{"g":"nostim_20Hz","x":5.27,"y":-0.2},{"g":"nostim_20Hz","x":5.33,"y":0.1},{"g":"nostim_20Hz","x":5.38,"y":-0.05},{"g":"nostim_20Hz","x":5.42,"y":0.35},
{"g":"nostim_20Hz","x":5.6,"y":-0.2},{"g":"nostim_20Hz","x":5.66,"y":0.1},{"g":"nostim_20Hz","x":5.71,"y":-0.1},{"g":"nostim_20Hz","x":5.77,"y":0.4},{"g":"nostim_20Hz","x":5.82,"y":-0.25},{"g":"nostim_20Hz","x":5.88,"y":0.2},{"g":"nostim_20Hz","x":5.93,"y":-0.05},{"g":"nostim_20Hz","x":5.99,"y":0.6},{"g":"nostim_20Hz","x":6.04,"y":-0.2},{"g":"nostim_20Hz","x":6.1,"y":0.15},{"g":"nostim_20Hz","x":6.15,"y":0.9},{"g":"nostim_20Hz","x":6.21,"y":-0.1},{"g":"nostim_20Hz","x":6.26,"y":0.3},{"g":"nostim_20Hz","x":6.31,"y":-0.2},{"g":"nostim_20Hz","x":6.37,"y":0.05},{"g":"nostim_20Hz","x":6.41,"y":0.5},
{"g":"nostim_20Hz","x":6.61,"y":-0.1},{"g":"nostim_20Hz","x":6.67,"y":0.3},{"g":"nostim_20Hz","x":6.72,"y":-0.25},{"g":"nostim_20Hz","x":6.78,"y":0.1},{"g":"nostim_20Hz","x":6.83,"y":0.55},{"g":"nostim_20Hz","x":6.89,"y":-0.2},{"g":"nostim_20Hz","x":6.94,"y":0.2},{"g":"nostim_20Hz","x":7.0,"y":-0.05},{"g":"nostim_20Hz","x":7.05,"y":0.4},{"g":"nostim_20Hz","x":7.11,"y":-0.2},{"g":"nostim_20Hz","x":7.16,"y":0.0},{"g":"nostim_20Hz","x":7.22,"y":0.25},{"g":"nostim_20Hz","x":7.27,"y":-0.2},{"g":"nostim_20Hz","x":7.33,"y":0.6},{"g":"nostim_20Hz","x":7.38,"y":-0.1},{"g":"nostim_20Hz","x":7.42,"y":0.15},
{"g":"nostim_20Hz","x":7.61,"y":-0.2},{"g":"nostim_20Hz","x":7.67,"y":0.2},{"g":"nostim_20Hz","x":7.72,"y":-0.1},{"g":"nostim_20Hz","x":7.78,"y":0.45},{"g":"nostim_20Hz","x":7.83,"y":-0.25},{"g":"nostim_20Hz","x":7.89,"y":0.1},{"g":"nostim_20Hz","x":7.94,"y":-0.15},{"g":"nostim_20Hz","x":8.0,"y":0.3},{"g":"nostim_20Hz","x":8.05,"y":-0.2},{"g":"nostim_20Hz","x":8.11,"y":0.6},{"g":"nostim_20Hz","x":8.16,"y":0.0},{"g":"nostim_20Hz","x":8.22,"y":-0.2},{"g":"nostim_20Hz","x":8.27,"y":0.25},{"g":"nostim_20Hz","x":8.33,"y":-0.1},{"g":"nostim_20Hz","x":8.38,"y":0.1},{"g":"nostim_20Hz","x":8.42,"y":-0.2},
{"g":"nostim_20Hz","x":0.78,"y":4.26},{"g":"nostim_20Hz","x":1.04,"y":2.98},{"g":"nostim_20Hz","x":1.07,"y":1.86},{"g":"nostim_20Hz","x":1.21,"y":3.3},{"g":"nostim_20Hz","x":1.68,"y":1.24},{"g":"nostim_20Hz","x":1.84,"y":2.15},{"g":"nostim_20Hz","x":2.0,"y":1.24},{"g":"nostim_20Hz","x":2.09,"y":2.15},{"g":"nostim_20Hz","x":2.16,"y":1.9},{"g":"nostim_20Hz","x":2.19,"y":1.6},{"g":"nostim_20Hz","x":2.17,"y":1.3},{"g":"nostim_20Hz","x":2.38,"y":2.15},{"g":"nostim_20Hz","x":2.18,"y":1.45},{"g":"nostim_20Hz","x":2.76,"y":1.24},{"g":"nostim_20Hz","x":2.95,"y":1.24},{"g":"nostim_20Hz","x":2.99,"y":6.92},{"g":"nostim_20Hz","x":3.09,"y":7.16},{"g":"nostim_20Hz","x":3.15,"y":2.15},{"g":"nostim_20Hz","x":3.17,"y":2.28},{"g":"nostim_20Hz","x":3.2,"y":2.28},{"g":"nostim_20Hz","x":3.63,"y":3.1},{"g":"nostim_20Hz","x":3.75,"y":1.33},{"g":"nostim_20Hz","x":4.16,"y":4.35},{"g":"nostim_20Hz","x":4.21,"y":3.27},{"g":"nostim_20Hz","x":4.28,"y":7.16},{"g":"nostim_20Hz","x":4.38,"y":4.97},{"g":"nostim_20Hz","x":4.37,"y":2.28},{"g":"nostim_20Hz","x":4.4,"y":2.0},{"g":"nostim_20Hz","x":4.23,"y":1.1},{"g":"nostim_20Hz","x":4.65,"y":2.28},{"g":"nostim_20Hz","x":4.7,"y":2.2},{"g":"nostim_20Hz","x":4.94,"y":6.2},{"g":"nostim_20Hz","x":5.02,"y":2.44},{"g":"nostim_20Hz","x":5.33,"y":2.1},{"g":"nostim_20Hz","x":5.38,"y":1.86},{"g":"nostim_20Hz","x":5.24,"y":1.1},{"g":"nostim_20Hz","x":5.67,"y":3.3},{"g":"nostim_20Hz","x":5.69,"y":4.9},{"g":"nostim_20Hz","x":5.69,"y":1.37},{"g":"nostim_20Hz","x":5.94,"y":6.42},{"g":"nostim_20Hz","x":6.11,"y":3.85},{"g":"nostim_20Hz","x":6.27,"y":3.27},{"g":"nostim_20Hz","x":6.34,"y":3.27},{"g":"nostim_20Hz","x":6.17,"y":1.5},{"g":"nostim_20Hz","x":6.24,"y":1.6},{"g":"nostim_20Hz","x":6.72,"y":3.5},{"g":"nostim_20Hz","x":6.79,"y":2.07},{"g":"nostim_20Hz","x":6.83,"y":2.07},{"g":"nostim_20Hz","x":6.88,"y":1.95},{"g":"nostim_20Hz","x":6.93,"y":1.95},{"g":"nostim_20Hz","x":7.0,"y":1.7},{"g":"nostim_20Hz","x":6.99,"y":12.13},{"g":"nostim_20Hz","x":7.06,"y":10.97},{"g":"nostim_20Hz","x":7.35,"y":6.5},{"g":"nostim_20Hz","x":7.16,"y":3.9},{"g":"nostim_20Hz","x":7.16,"y":3.5},{"g":"nostim_20Hz","x":7.75,"y":3.4},{"g":"nostim_20Hz","x":7.64,"y":2.44},{"g":"nostim_20Hz","x":8.04,"y":3.52},{"g":"nostim_20Hz","x":8.06,"y":2.9},{"g":"nostim_20Hz","x":8.04,"y":1.4},{"g":"nostim_20Hz","x":8.18,"y":20.2},{"g":"nostim_20Hz","x":8.38,"y":16.9}
]
},
"concat":[
{"hconcat":[
{"width":284,"height":256,
"title":{"text":"Transition latency","subtitle":"Continuation transitions","anchor":"start","frame":"group","fontSize":16,"subtitleFontSize":13.5,"subtitlePadding":4,"offset":-29.5},
"layer":[
{"data":{"name":"pts"},"transform":[{"filter":"datum.p=='A' && datum.g=='10Hz'"}],"mark":{"type":"circle","size":8,"color":"#c0c0c0","opacity":1},
"encoding":{"x":{"field":"x","type":"quantitative","scale":{"domain":[0.4,2.6],"nice":false,"zero":false},"axis":{"values":[1,2],"labelExpr":"datum.value==1?'nostim_10Hz':'nostim_20Hz'","title":null}},
"y":{"field":"y","type":"quantitative","scale":{"domain":[95.6,670.3],"nice":false,"zero":false},"axis":{"values":[100,200,300,400,500,600],"format":"d","title":"transition latency [in ms]"}}}},
{"data":{"name":"pts"},"transform":[{"filter":"datum.p=='A' && datum.g=='20Hz'"}],"mark":{"type":"circle","size":8,"color":"#000000","opacity":1},
"encoding":{"x":{"field":"x","type":"quantitative"},"y":{"field":"y","type":"quantitative"}}},
{"data":{"name":"box"},"transform":[{"filter":"datum.p=='A'"}],"mark":{"type":"rule","strokeWidth":2.2,"color":"#000000"},
"encoding":{"x":{"field":"c","type":"quantitative"},"y":{"field":"lo","type":"quantitative"},"y2":{"field":"q1"}}},
{"data":{"name":"box"},"transform":[{"filter":"datum.p=='A'"}],"mark":{"type":"rule","strokeWidth":2.2,"color":"#000000"},
"encoding":{"x":{"field":"c","type":"quantitative"},"y":{"field":"q3","type":"quantitative"},"y2":{"field":"hi"}}},
{"data":{"name":"box"},"transform":[{"filter":"datum.p=='A'"}],"mark":{"type":"bar","width":40,"fill":"#f2f2f2","fillOpacity":0.85,"stroke":"#000000","strokeWidth":2.2},
"encoding":{"x":{"field":"c","type":"quantitative"},"y":{"field":"q1","type":"quantitative"},"y2":{"field":"q3"}}},
{"data":{"name":"box"},"transform":[{"filter":"datum.p=='A'"}],"mark":{"type":"point","shape":"M-1.4,-1.3L-1,-1.3L1,0L-1,1.3L-1.4,1.3Z","size":100,"filled":true,"fill":"#ffffff","strokeWidth":0,"opacity":1,"xOffset":-15},
"encoding":{"x":{"field":"c","type":"quantitative"},"y":{"field":"med","type":"quantitative"}}},
{"data":{"name":"box"},"transform":[{"filter":"datum.p=='A'"}],"mark":{"type":"point","shape":"M1.4,-1.3L1,-1.3L-1,0L1,1.3L1.4,1.3Z","size":100,"filled":true,"fill":"#ffffff","strokeWidth":0,"opacity":1,"xOffset":15},
"encoding":{"x":{"field":"c","type":"quantitative"},"y":{"field":"med","type":"quantitative"}}},
{"data":{"name":"box"},"transform":[{"filter":"datum.p=='A'"}],"mark":{"type":"point","shape":"M-1,-1.3L1,0L-1,1.3","size":100,"filled":false,"stroke":"#000000","strokeWidth":2.2,"opacity":1,"xOffset":-15},
"encoding":{"x":{"field":"c","type":"quantitative"},"y":{"field":"med","type":"quantitative"}}},
{"data":{"name":"box"},"transform":[{"filter":"datum.p=='A'"}],"mark":{"type":"point","shape":"M1,-1.3L-1,0L1,1.3","size":100,"filled":false,"stroke":"#000000","strokeWidth":2.2,"opacity":1,"xOffset":15},
"encoding":{"x":{"field":"c","type":"quantitative"},"y":{"field":"med","type":"quantitative"}}},
{"data":{"name":"box"},"transform":[{"filter":"datum.p=='A'"}],"mark":{"type":"tick","orient":"horizontal","size":20,"thickness":3,"color":"#000000","opacity":1},
"encoding":{"x":{"field":"c","type":"quantitative"},"y":{"field":"med","type":"quantitative"}}},
{"data":{"name":"outl"},"transform":[{"filter":"datum.p=='A'"}],"mark":{"type":"point","shape":"M-1,0L1,0M0,-1L0,1M-0.71,-0.71L0.71,0.71M-0.71,0.71L0.71,-0.71","size":49,"filled":false,"stroke":"#333333","strokeWidth":1,"opacity":1},
"encoding":{"x":{"field":"c","type":"quantitative"},"y":{"field":"y","type":"quantitative"}}},
{"data":{"name":"box"},"transform":[{"filter":"datum.p=='A'"}],"mark":{"type":"point","shape":"M-1,0L1,0M0,-1L0,1M-0.71,-0.71L0.71,0.71M-0.71,0.71L0.71,-0.71","size":289,"filled":false,"stroke":"#ff3030","strokeWidth":1.2,"opacity":1},
"encoding":{"x":{"field":"c","type":"quantitative"},"y":{"field":"mean","type":"quantitative"}}},
{"data":{"values":[{}]},"mark":{"type":"text","text":"A","fontWeight":"bold","fontSize":13,"align":"left","baseline":"alphabetic","font":"Liberation Sans","color":"#000000"},
"encoding":{"x":{"datum":0.028,"type":"quantitative"},"y":{"datum":734,"type":"quantitative"}}}
]},
{"width":277,"height":256,
"title":{"text":" ","subtitle":"Switching transitions","anchor":"start","frame":"group","fontSize":16,"subtitleFontSize":13.5,"subtitlePadding":4,"offset":-29.5},
"layer":[
{"data":{"name":"pts"},"transform":[{"filter":"datum.p=='B' && datum.g=='10Hz'"}],"mark":{"type":"circle","size":8,"color":"#c0c0c0","opacity":1},
"encoding":{"x":{"field":"x","type":"quantitative","scale":{"domain":[0.4,2.6],"nice":false,"zero":false},"axis":{"values":[1,2],"labelExpr":"datum.value==1?'nostim_10Hz':'nostim_20Hz'","title":null}},
"y":{"field":"y","type":"quantitative","scale":{"domain":[113,1622],"nice":false,"zero":false},"axis":{"values":[400,800,1200,1600],"format":"d","title":"transition latency [in ms]"}}}},
{"data":{"name":"pts"},"transform":[{"filter":"datum.p=='B' && datum.g=='20Hz'"}],"mark":{"type":"circle","size":8,"color":"#000000","opacity":1},
"encoding":{"x":{"field":"x","type":"quantitative"},"y":{"field":"y","type":"quantitative"}}},
{"data":{"name":"box"},"transform":[{"filter":"datum.p=='B'"}],"mark":{"type":"rule","strokeWidth":2.2,"color":"#000000"},
"encoding":{"x":{"field":"c","type":"quantitative"},"y":{"field":"lo","type":"quantitative"},"y2":{"field":"q1"}}},
{"data":{"name":"box"},"transform":[{"filter":"datum.p=='B'"}],"mark":{"type":"rule","strokeWidth":2.2,"color":"#000000"},
"encoding":{"x":{"field":"c","type":"quantitative"},"y":{"field":"q3","type":"quantitative"},"y2":{"field":"hi"}}},
{"data":{"name":"box"},"transform":[{"filter":"datum.p=='B'"}],"mark":{"type":"bar","width":40,"fill":"#f2f2f2","fillOpacity":0.85,"stroke":"#000000","strokeWidth":2.2},
"encoding":{"x":{"field":"c","type":"quantitative"},"y":{"field":"q1","type":"quantitative"},"y2":{"field":"q3"}}},
{"data":{"name":"box"},"transform":[{"filter":"datum.p=='B'"}],"mark":{"type":"point","shape":"M-1.4,-1.3L-1,-1.3L1,0L-1,1.3L-1.4,1.3Z","size":100,"filled":true,"fill":"#ffffff","strokeWidth":0,"opacity":1,"xOffset":-15},
"encoding":{"x":{"field":"c","type":"quantitative"},"y":{"field":"med","type":"quantitative"}}},
{"data":{"name":"box"},"transform":[{"filter":"datum.p=='B'"}],"mark":{"type":"point","shape":"M1.4,-1.3L1,-1.3L-1,0L1,1.3L1.4,1.3Z","size":100,"filled":true,"fill":"#ffffff","strokeWidth":0,"opacity":1,"xOffset":15},
"encoding":{"x":{"field":"c","type":"quantitative"},"y":{"field":"med","type":"quantitative"}}},
{"data":{"name":"box"},"transform":[{"filter":"datum.p=='B'"}],"mark":{"type":"point","shape":"M-1,-1.3L1,0L-1,1.3","size":100,"filled":false,"stroke":"#000000","strokeWidth":2.2,"opacity":1,"xOffset":-15},
"encoding":{"x":{"field":"c","type":"quantitative"},"y":{"field":"med","type":"quantitative"}}},
{"data":{"name":"box"},"transform":[{"filter":"datum.p=='B'"}],"mark":{"type":"point","shape":"M1,-1.3L-1,0L1,1.3","size":100,"filled":false,"stroke":"#000000","strokeWidth":2.2,"opacity":1,"xOffset":15},
"encoding":{"x":{"field":"c","type":"quantitative"},"y":{"field":"med","type":"quantitative"}}},
{"data":{"name":"box"},"transform":[{"filter":"datum.p=='B'"}],"mark":{"type":"tick","orient":"horizontal","size":20,"thickness":3,"color":"#000000","opacity":1},
"encoding":{"x":{"field":"c","type":"quantitative"},"y":{"field":"med","type":"quantitative"}}},
{"data":{"name":"outl"},"transform":[{"filter":"datum.p=='B'"}],"mark":{"type":"point","shape":"M-1,0L1,0M0,-1L0,1M-0.71,-0.71L0.71,0.71M-0.71,0.71L0.71,-0.71","size":49,"filled":false,"stroke":"#333333","strokeWidth":1,"opacity":1},
"encoding":{"x":{"field":"c","type":"quantitative"},"y":{"field":"y","type":"quantitative"}}},
{"data":{"name":"box"},"transform":[{"filter":"datum.p=='B'"}],"mark":{"type":"point","shape":"M-1,0L1,0M0,-1L0,1M-0.71,-0.71L0.71,0.71M-0.71,0.71L0.71,-0.71","size":289,"filled":false,"stroke":"#ff3030","strokeWidth":1.2,"opacity":1},
"encoding":{"x":{"field":"c","type":"quantitative"},"y":{"field":"mean","type":"quantitative"}}},
{"data":{"values":[{}]},"mark":{"type":"rule","strokeWidth":1.3,"color":"#000000"},
"encoding":{"x":{"datum":0.996,"type":"quantitative"},"x2":{"datum":1.226},"y":{"datum":1476,"type":"quantitative"}}},
{"data":{"values":[{}]},"mark":{"type":"rule","strokeWidth":1.3,"color":"#000000"},
"encoding":{"x":{"datum":1.75,"type":"quantitative"},"x2":{"datum":1.949},"y":{"datum":1476,"type":"quantitative"}}},
{"data":{"values":[{}]},"mark":{"type":"text","text":"p","fontStyle":"italic","fontSize":16,"font":"Lato","align":"left","baseline":"alphabetic","color":"#000000"},
"encoding":{"x":{"datum":1.311,"type":"quantitative"},"y":{"datum":1441,"type":"quantitative"}}},
{"data":{"values":[{}]},"mark":{"type":"text","text":"<.05","fontSize":16,"font":"Lato","align":"left","baseline":"alphabetic","color":"#000000"},
"encoding":{"x":{"datum":1.42,"type":"quantitative"},"y":{"datum":1441,"type":"quantitative"}}},
{"data":{"values":[{}]},"mark":{"type":"text","text":"B","fontWeight":"bold","fontSize":13,"align":"left","baseline":"alphabetic","font":"Liberation Sans","color":"#000000"},
"encoding":{"x":{"datum":-0.077,"type":"quantitative"},"y":{"datum":1790,"type":"quantitative"}}}
]}
],"spacing":12},
{"width":632,"height":181,
"title":{"text":"Error rate","subtitle":"Continuation transitions","anchor":"start","frame":"group","dx":-17,"fontSize":13.5,"subtitleFontSize":11.3,"subtitlePadding":7.5,"offset":-31.6},
"layer":[
{"data":{"name":"err"},"mark":{"type":"circle","size":40,"opacity":1},
"encoding":{"x":{"field":"x","type":"quantitative","scale":{"domain":[0.331,8.758],"nice":false,"zero":false},"axis":{"values":[2,4,6,8],"format":"d","title":"time progression across session [block number]","labelFontSize":13,"titleFontSize":16,"titlePadding":1}},
"y":{"field":"y","type":"quantitative","scale":{"domain":[-1.36,21.12],"nice":false,"zero":false},"axis":{"values":[0,5,10,15,20],"format":"d","offset":7,"title":"cumulative error rate [in %]","labelFontSize":13,"labelPadding":4,"titlePadding":1}},
"color":{"field":"g","type":"nominal","scale":{"domain":["nostim_10Hz","nostim_20Hz"],"range":["#cccccc","#333333"]},
"legend":{"title":"off-line stimulation condition","orient":"none","legendX":172,"legendY":347,"direction":"horizontal","titleFont":"Lato","titleFontSize":11.5,"titleFontWeight":"normal","titleColor":"#000000","titlePadding":5,"labelFont":"Liberation Sans","labelFontSize":9,"labelColor":"#000000","labelOffset":5,"columnPadding":8,"symbolType":"M-1,0L1,0M0.4,0A0.4,0.4,0,1,1,-0.4,0A0.4,0.4,0,1,1,0.4,0Z","symbolSize":289,"symbolStrokeWidth":1.5,"symbolOpacity":1,
"encode":{"symbols":{"update":{"stroke":{"scale":"color","field":"value"},"fill":{"scale":"color","field":"value"},"strokeWidth":{"value":1.5}}}}}}}},
{"data":{"name":"fit"},"mark":{"type":"area","color":"#999999","opacity":0.4},
"encoding":{"x":{"field":"x","type":"quantitative"},"y":{"field":"lo","type":"quantitative"},"y2":{"field":"hi"},"detail":{"field":"g"}}},
{"data":{"name":"fit"},"mark":{"type":"line","strokeWidth":2},
"encoding":{"x":{"field":"x","type":"quantitative"},"y":{"field":"fit","type":"quantitative"},"color":{"field":"g","type":"nominal","legend":null}}},
{"data":{"values":[{}]},"mark":{"type":"rule","strokeWidth":1.1,"color":"#333333"},
"encoding":{"x":{"datum":0.244,"type":"quantitative"},"x2":{"datum":0.331},"y":{"datum":-1.36,"type":"quantitative"}}},
{"data":{"values":[{}]},"mark":{"type":"text","text":"time X off-line stimulation condition","fontSize":14.2,"font":"Lato","align":"left","baseline":"alphabetic","color":"#000000"},
"encoding":{"x":{"datum":0.871,"type":"quantitative"},"y":{"datum":16.8,"type":"quantitative"}}},
{"data":{"values":[{}]},"mark":{"type":"text","text":"p","fontStyle":"italic","fontSize":15,"font":"Lato","align":"left","baseline":"alphabetic","color":"#000000"},
"encoding":{"x":{"datum":3.9,"type":"quantitative"},"y":{"datum":16.8,"type":"quantitative"}}},
{"data":{"values":[{}]},"mark":{"type":"text","text":"<.01","fontSize":15,"font":"Lato","align":"left","baseline":"alphabetic","color":"#000000"},
"encoding":{"x":{"datum":4.03,"type":"quantitative"},"y":{"datum":16.8,"type":"quantitative"}}},
{"data":{"values":[{}]},"mark":{"type":"text","text":"[pooled over IP and AP coordination pattern]","fontSize":10,"font":"Liberation Sans","align":"right","baseline":"alphabetic","color":"#000000"},
"encoding":{"x":{"datum":8.747,"type":"quantitative"},"y":{"datum":-7.45,"type":"quantitative"}}},
{"data":{"values":[{}]},"mark":{"type":"text","text":"C","fontWeight":"bold","fontSize":12,"align":"left","baseline":"alphabetic","font":"Liberation Sans","color":"#000000"},
"encoding":{"x":{"datum":-0.276,"type":"quantitative"},"y":{"datum":31.27,"type":"quantitative"}}}
]}
]
}
